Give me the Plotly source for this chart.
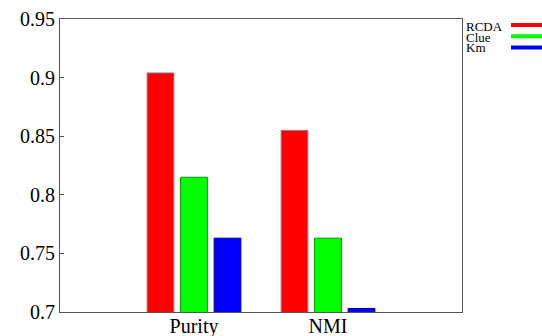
import plotly.graph_objects as go

categories = ["Purity", "NMI"]
series_names = ["RCDA", "Clue", "Km"]
rcda = [0.904, 0.855]
clue = [0.815, 0.763]
km = [0.763, 0.703]
y_ticks = [0.7, 0.75, 0.8, 0.85, 0.9, 0.95]
y_tick_labels = ["0.7", "0.75", "0.8", "0.85", "0.9", "0.95"]

colors = ["#ff0000", "#00ff00", "#0000ff"]
edges = ["#888888", "#009900", "#000099"]
serif = "Liberation Serif, Times New Roman, serif"

fig = go.Figure()
for name, vals, c, e in zip(series_names, [rcda, clue, km], colors, edges):
    fig.add_trace(go.Bar(x=categories, y=vals, name=name, marker=dict(color=c, line=dict(color=e, width=1)),
                         base=0, showlegend=False))

fig.update_layout(
    width=542, height=336,
    margin=dict(l=60, r=80, t=19, b=24, autoexpand=False),
    paper_bgcolor="white", plot_bgcolor="white",
    barmode="group", bargap=0.25, bargroupgap=0.2,
    font=dict(family=serif, color="black"),
    xaxis=dict(type="category", range=[-1, 2], showline=True, linecolor="#555555", linewidth=1,
               mirror=True, ticks="", tickfont=dict(size=20, family=serif), showgrid=False,
               ticklabelstandoff=-4, automargin=False),
    yaxis=dict(range=[0.7, 0.95], tickvals=y_ticks, ticktext=y_tick_labels, showline=True,
               linecolor="#555555", linewidth=1, mirror=True, ticks="inside", ticklen=4,
               tickcolor="#555555", tickfont=dict(size=20, family=serif), showgrid=False,
               zeroline=False, automargin=False),
)

text_y = [27, 37, 47.5]
swatch_y = [25, 36.3, 47.5]
for name, c, ty, sy in zip(series_names, colors, text_y, swatch_y):
    fig.add_annotation(xref="paper", yref="paper", x=(465 - 60) / 402, y=1 - (ty - 19) / 293,
                       text=name, showarrow=False, xanchor="left", yanchor="middle",
                       font=dict(size=13, family=serif, color="black"), borderpad=0)
    fig.add_shape(type="rect", xref="paper", yref="paper",
                  x0=(511 - 60) / 402, x1=(542 - 60) / 402,
                  y0=1 - (sy + 2 - 19) / 293, y1=1 - (sy - 2 - 19) / 293,
                  fillcolor=c, line=dict(width=0))

fig.write_html("out.html", config={"displayModeBar": False},
               post_script="document.body.style.margin='0';document.body.style.overflow='hidden';")
